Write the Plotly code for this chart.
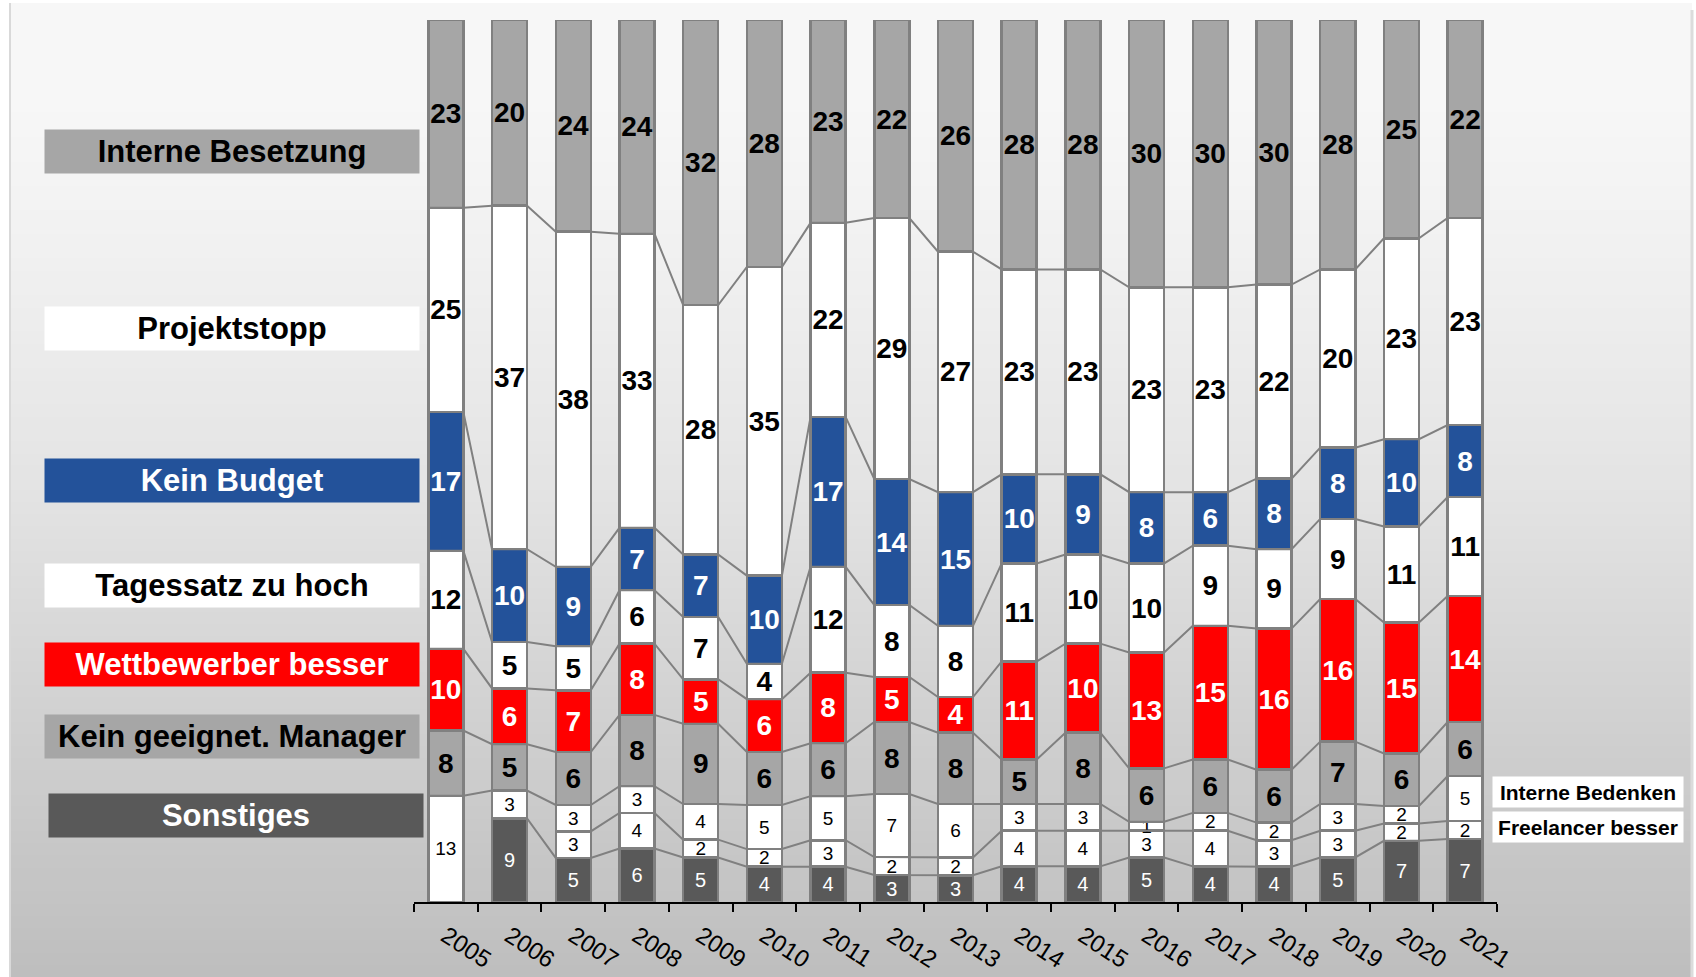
import plotly.graph_objects as go

years = list(range(2005, 2022))

# Werte je Jahr (unten nach oben gestapelt), None = nicht erhoben
sonstiges = [None, 9, 5, 6, 5, 4, 4, 3, 3, 4, 4, 5, 4, 4, 5, 7, 7]
freelancer_besser = [None, None, 3, 4, 2, 2, 3, 2, 2, 4, 4, 3, 4, 3, 3, 2, 2]
interne_bedenken = [13, 3, 3, 3, 4, 5, 5, 7, 6, 3, 3, 1, 2, 2, 3, 2, 5]
kein_manager = [8, 5, 6, 8, 9, 6, 6, 8, 8, 5, 8, 6, 6, 6, 7, 6, 6]
wettbewerber_besser = [10, 6, 7, 8, 5, 6, 8, 5, 4, 11, 10, 13, 15, 16, 16, 15, 14]
tagessatz_zu_hoch = [12, 5, 5, 6, 7, 4, 12, 8, 8, 11, 10, 10, 9, 9, 9, 11, 11]
kein_budget = [17, 10, 9, 7, 7, 10, 17, 14, 15, 10, 9, 8, 6, 8, 8, 10, 8]
projektstopp = [25, 37, 38, 33, 28, 35, 22, 29, 27, 23, 23, 23, 23, 22, 20, 23, 23]
interne_besetzung = [23, 20, 24, 24, 32, 28, 23, 22, 26, 28, 28, 30, 30, 30, 28, 25, 22]

series = [
    # name, values, fill, text colour, bold, text size
    ("Sonstiges", sonstiges, "#595959", "white", False, 20),
    ("Freelancer besser", freelancer_besser, "white", "black", False, 19),
    ("Interne Bedenken", interne_bedenken, "white", "black", False, 19),
    ("Kein geeignet. Manager", kein_manager, "#a6a6a6", "black", True, 28),
    ("Wettbewerber besser", wettbewerber_besser, "#ff0000", "white", True, 28),
    ("Tagessatz zu hoch", tagessatz_zu_hoch, "white", "black", True, 28),
    ("Kein Budget", kein_budget, "#23529a", "white", True, 28),
    ("Projektstopp", projektstopp, "white", "black", True, 28),
    ("Interne Besetzung", interne_besetzung, "#a6a6a6", "black", True, 28),
]

W, H = 1696, 977
L, R, T, B = 414, 199, 20, 75
BAR_W = 0.55
FONT = "Liberation Sans, Arial, sans-serif"


def px2x(px):
    return (px - L) / (W - L - R)


def px2y(py):
    return 1 - (py - T) / (H - T - B)


fig = go.Figure()

for name, vals, color, tcol, bold, size in series:
    fig.add_trace(go.Bar(
        x=years, y=vals, name=name, width=BAR_W,
        marker=dict(color=color, line=dict(color="#808080", width=2.5)),
        text=[None if v is None else str(v) for v in vals],
        textposition="inside", insidetextanchor="middle",
        textangle=0, constraintext="none",
        insidetextfont=dict(family=FONT, size=size, color=tcol,
                            weight="bold" if bold else "normal"),
        hoverinfo="skip",
    ))

# Verbindungslinien zwischen den Segmentgrenzen (kumulierte Prozente)
totals = [sum(s[1][i] or 0 for s in series) for i in range(len(years))]
cum = [0.0] * len(years)
for name, vals, *_ in series[:-1]:
    xs, ys = [], []
    for i, yr in enumerate(years):
        xs += [yr - BAR_W / 2, yr + BAR_W / 2]
        if vals[i] is None:
            ys += [None, None]
            continue
        cum[i] += vals[i]
        top = cum[i] / totals[i] * 100
        ys += [top, top]
    fig.add_trace(go.Scatter(x=xs, y=ys, mode="lines", showlegend=False,
                             line=dict(color="#808080", width=2),
                             hoverinfo="skip", connectgaps=False))

# Hintergrund-Verlauf
stops = [(0, 247), (100, 247), (250, 241), (480, 228), (700, 210), (977, 190)]


def grey_at(py):
    for (y0, c0), (y1, c1) in zip(stops, stops[1:]):
        if y0 <= py <= y1:
            return c0 + (c1 - c0) * (py - y0) / (y1 - y0)
    return stops[-1][1]


shapes = []
n = 80
top_px, bot_px = 3, H
for k in range(n):
    y0 = top_px + (bot_px - top_px) * k / n
    y1 = top_px + (bot_px - top_px) * (k + 1) / n + 1
    g = int(round(grey_at((y0 + y1) / 2)))
    shapes.append(dict(type="rect", xref="paper", yref="paper", layer="below",
                       x0=px2x(10), x1=px2x(1692), y0=px2y(y1), y1=px2y(y0),
                       fillcolor=f"rgb({g},{g},{g})", line=dict(width=0)))
shapes.append(dict(type="line", xref="paper", yref="paper", layer="below",
                   x0=px2x(10), x1=px2x(10), y0=px2y(H), y1=px2y(3),
                   line=dict(color="#d9d9d9", width=2)))
shapes.append(dict(type="line", xref="paper", yref="paper", layer="below",
                   x0=px2x(1692), x1=px2x(1692), y0=px2y(H), y1=px2y(10),
                   line=dict(color="#dcdcdc", width=3)))

# Legendenkästen links und rechts
legend_boxes = [
    ("Interne Besetzung", 232, 152, "#a6a6a6", "black"),
    ("Projektstopp", 232, 328, "white", "black"),
    ("Kein Budget", 232, 480, "#23529a", "white"),
    ("Tagessatz zu hoch", 232, 585, "white", "black"),
    ("Wettbewerber besser", 232, 664, "#ff0000", "white"),
    ("Kein geeignet. Manager", 232, 736, "#a6a6a6", "black"),
    ("Sonstiges", 236, 815, "#595959", "white"),
]
annotations = []
for text, cx, cy, bg, fc in legend_boxes:
    annotations.append(dict(
        text=text, xref="paper", yref="paper", x=px2x(cx), y=px2y(cy),
        xanchor="center", yanchor="middle", showarrow=False,
        width=374, height=43, bgcolor=bg, borderpad=0,
        font=dict(family=FONT, size=31, color=fc, weight="bold")))
for text, cy in [("Interne Bedenken", 792), ("Freelancer besser", 827)]:
    annotations.append(dict(
        text=text, xref="paper", yref="paper", x=px2x(1588), y=px2y(cy),
        xanchor="center", yanchor="middle", showarrow=False,
        width=190, height=30, bgcolor="white", borderpad=0,
        font=dict(family=FONT, size=21, color="black", weight="bold")))

fig.update_layout(
    width=W, height=H,
    margin=dict(l=L, r=R, t=T, b=B, autoexpand=False),
    barmode="stack", barnorm="percent",
    showlegend=False,
    paper_bgcolor="white", plot_bgcolor="rgba(0,0,0,0)",
    shapes=shapes, annotations=annotations,
    xaxis=dict(
        range=[2004.5, 2021.5], tickmode="array", tickvals=years,
        ticktext=[str(y) for y in years], ticks="", tickangle=33,
        tickfont=dict(family=FONT, size=24, color="black"),
        ticklabelstandoff=9,
        showline=True, linecolor="black", linewidth=1.5,
        showgrid=False, zeroline=False, automargin=False,
        minor=dict(tickmode="linear", tick0=2004.5, dtick=1,
                   ticks="outside", ticklen=8, tickcolor="black",
                   tickwidth=1.5, showgrid=False),
    ),
    yaxis=dict(range=[0, 100], visible=False, showgrid=False,
               zeroline=False, automargin=False),
)

fig.write_html("out.html", config={"displayModeBar": False},
               post_script="document.body.style.margin='0';")
